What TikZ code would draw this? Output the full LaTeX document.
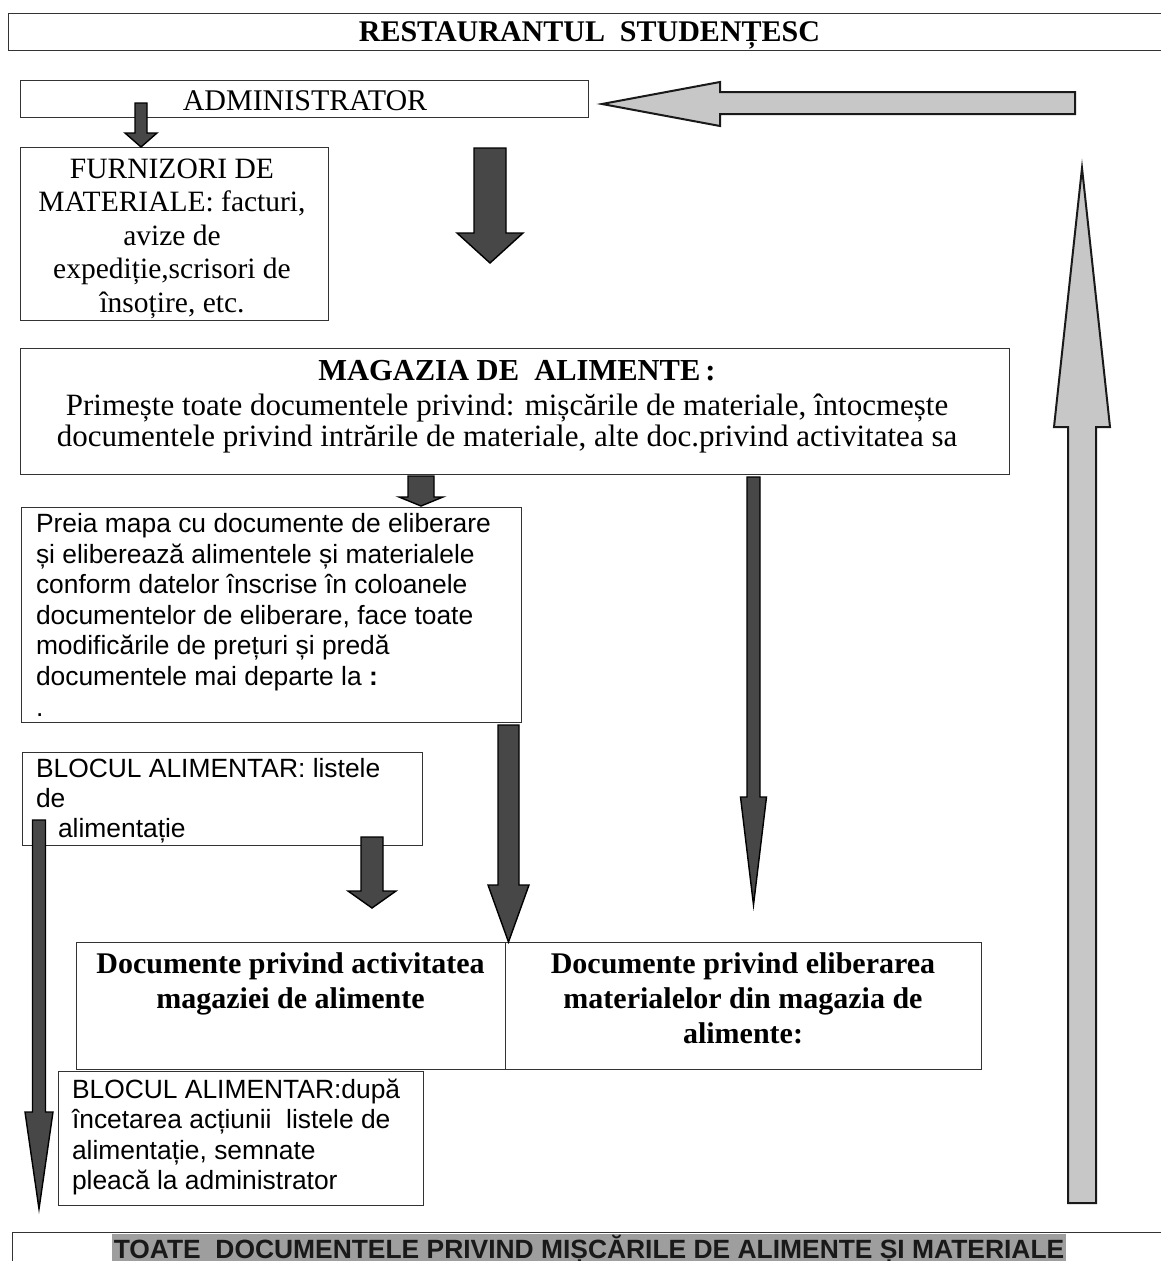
\documentclass[tikz,border=0pt]{standalone}
\usepackage{fontspec}
\setmainfont{Liberation Serif}
\setsansfont{Liberation Sans}
\tikzset{
  box/.style={draw=black!80, line width=1.3pt, inner sep=0pt, anchor=north west},
  txt/.style={inner sep=0pt, outer sep=0pt},
  darr/.style={draw=black, line width=1.4pt, fill=black!72, line join=miter},
  garr/.style={draw=black!90, line width=2pt, fill=black!22, line join=miter},
}
% vertical block arrow: style, x, y tail, y head base, y tip, shaft half width, head half width
\newcommand{\vArrow}[7]{%
  \draw[#1] ({#2-#6},#3) -- ({#2+#6},#3) -- ({#2+#6},#4) -- ({#2+#7},#4) -- (#2,#5)
    -- ({#2-#7},#4) -- ({#2-#6},#4) -- cycle;}
\begin{document}
\begin{tikzpicture}[x=1pt,y=-1pt]
\path[use as bounding box] (0,0) rectangle (1161,1261);
\clip (0,0) rectangle (1161,1261);
\fill[white] (0,0) rectangle (1161,1261);

% boxes
\node[box, minimum width=1170pt, minimum height=37pt] (titlebox) at (8,13) {};
\node[box, minimum width=568pt, minimum height=37pt] (admbox) at (20,80) {};
\node[box, minimum width=308pt, minimum height=173pt] (furnbox) at (20,147) {};
\node[box, minimum width=989pt, minimum height=126pt] (magbox) at (20,348) {};
\node[box, minimum width=500pt, minimum height=215pt] (preiabox) at (21,507) {};
\node[box, minimum width=400pt, minimum height=93pt] (bloc1box) at (22,752) {};
\node[box, minimum width=429pt, minimum height=127pt] (docLbox) at (76,942) {};
\node[box, minimum width=476pt, minimum height=127pt] (docRbox) at (505,942) {};
\node[box, minimum width=365pt, minimum height=134pt] (bloc2box) at (58,1071) {};
\node[box, minimum width=1170pt, minimum height=60pt] (bottombox) at (12,1232) {};

% texts
\node[txt, font=\fontsize{30}{36}\selectfont\bfseries, anchor=base] (titletxt) at (589.5,41) {RESTAURANTUL\ \ STUDENȚESC};
\node[txt, font=\fontsize{30}{36}\selectfont, anchor=base] (admtxt) at (305,110) {ADMINISTRATOR};
\node[txt, font=\fontsize{29.5}{33.5}\selectfont, align=center, anchor=north] (furntxt) at (172,148.5)
  {\rule{0pt}{29.5pt}FURNIZORI DE\\MATERIALE: facturi,\\avize de\\expediție,scrisori de\\însoțire, etc.};
\node[txt, font=\fontsize{30.5}{35}\selectfont\bfseries, anchor=base] (magtitle) at (517,380) {MAGAZIA DE\ \ ALIMENTE\,:};
\node[txt, font=\fontsize{31}{31}\selectfont, align=center, anchor=north] (magbody) at (507,384)
  {\rule{0pt}{31pt}Primește toate documentele privind: mișcările de materiale, întocmește\\documentele privind intrările de materiale, alte doc.privind activitatea sa};
\node[txt, font=\sffamily\fontsize{26.4}{30.6}\selectfont, align=left, anchor=north west] (preiatxt) at (36,506.1)
  {\rule{0pt}{26.4pt}Preia mapa cu documente de eliberare\\și eliberează alimentele și materialele\\conform datelor înscrise în coloanele\\documentelor de eliberare, face toate\\modificările de prețuri și predă\\documentele mai departe la \textbf{:}\\.};
\node[txt, font=\sffamily\fontsize{26.4}{30}\selectfont, align=left, anchor=north west] (bloc1txt) at (36,750.6)
  {\rule{0pt}{26.4pt}BLOCUL ALIMENTAR: listele\\de\\\hphantom{n} alimentație};
\node[txt, font=\fontsize{30}{35}\selectfont\bfseries, align=center, anchor=north] (docLtxt) at (290.5,943)
  {\rule{0pt}{30pt}Documente privind activitatea\\magaziei de alimente};
\node[txt, font=\fontsize{30}{35}\selectfont\bfseries, align=center, anchor=north] (docRtxt) at (743,943)
  {\rule{0pt}{30pt}Documente privind eliberarea\\materialelor din magazia de\\alimente:};
\node[txt, font=\sffamily\fontsize{26.4}{30.3}\selectfont, align=left, anchor=north west] (bloc2txt) at (72,1072.1)
  {\rule{0pt}{26.4pt}BLOCUL ALIMENTAR:după\\încetarea acțiunii\ \ listele de\\alimentație, semnate\\pleacă la administrator};
\node[txt, font=\sffamily\bfseries\fontsize{26.4}{30}\selectfont, anchor=base, inner xsep=1.5pt,
  text height=24pt, text depth=10pt, fill=black!38, text=black!90] (bottomtxt) at (589,1258)
  {TOATE\ \ DOCUMENTELE PRIVIND MIȘCĂRILE DE ALIMENTE ȘI MATERIALE};

% dark block arrows
\vArrow{darr}{141}{103}{133}{147}{6}{16}
\vArrow{darr}{490}{148}{233}{263}{16}{33}
\vArrow{darr}{421}{476}{497}{506}{13}{22}
\vArrow{darr}{753.5}{477}{797}{905}{6.5}{13}
\vArrow{darr}{508.5}{725}{885}{942}{10.5}{20.5}
\vArrow{darr}{372}{837}{891}{908}{11}{24}
\vArrow{darr}{39}{820}{1112}{1209}{6.5}{14}

% grey block arrows
\draw[garr] (1075,92) -- (720,92) -- (720,82) -- (602,104) -- (720,126) -- (720,114) -- (1075,114) -- cycle;
\vArrow{garr}{1082}{1203}{427}{168}{14}{28}
\end{tikzpicture}
\end{document}
